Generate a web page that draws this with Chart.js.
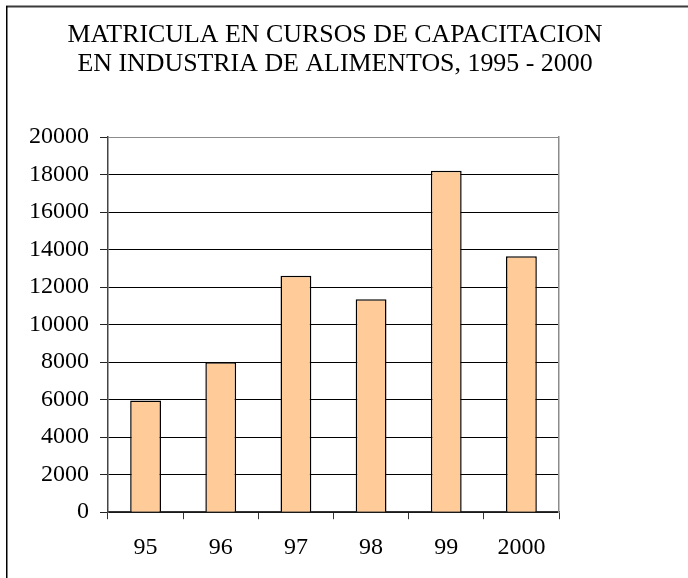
<!DOCTYPE html>
<html>
<head>
<meta charset="utf-8">
<script src="https://cdn.jsdelivr.net/npm/chart.js@4"></script>
<style>
  html, body { margin: 0; padding: 0; background: #fff; }
  #wrap { width: 688px; height: 578px; }
</style>
</head>
<body>
<div id="wrap"><canvas id="matriculaChart" width="688" height="578"></canvas></div>
<script>
// data
const years = ["95", "96", "97", "98", "99", "2000"];
const enrolment = [5950, 8000, 12600, 11350, 18200, 13650];
const titleLines = [
  "MATRICULA EN CURSOS DE CAPACITACION",
  "EN INDUSTRIA DE ALIMENTOS, 1995 - 2000"
];
const yMin = 0;
const yMax = 20000;
const yStep = 2000;

const serif = "'Liberation Serif', 'Times New Roman', serif";

// white page + the frame lines at top and left
const framePlugin = {
  id: "frame",
  beforeDraw(chart) {
    const ctx = chart.ctx;
    ctx.save();
    ctx.fillStyle = "#fff";
    ctx.fillRect(0, 0, chart.width, chart.height);
    ctx.restore();
  },
  afterDraw(chart) {
    const ctx = chart.ctx;
    ctx.save();
    ctx.fillStyle = "#3a3a3a";
    ctx.fillRect(6, 5.5, chart.width - 6, 2);
    ctx.fillStyle = "#000";
    ctx.fillRect(6, 6, 1.5, chart.height - 6);
    ctx.restore();
  }
};

const ctx = document.getElementById("matriculaChart").getContext("2d");
new Chart(ctx, {
  type: "bar",
  data: {
    labels: years,
    datasets: [{
      data: enrolment,
      backgroundColor: "#FFCC99",
      borderColor: "#000",
      borderWidth: 1.5,
      barPercentage: 0.41,
      categoryPercentage: 1
    }]
  },
  options: {
    responsive: false,
    animation: false,
    layout: { padding: { left: 0, right: 18, top: 0, bottom: 2 } },
    plugins: {
      legend: { display: false },
      tooltip: { enabled: false },
      title: {
        display: true,
        text: titleLines,
        color: "#000",
        font: { family: serif, size: 25.9, weight: "normal", lineHeight: 1.12 },
        padding: { top: 21, bottom: 58 }
      }
    },
    scales: {
      x: {
        grid: {
          drawOnChartArea: false,
          drawTicks: true,
          tickLength: 7,
          color: "#333"
        },
        border: { color: "#333", width: 1.5 },
        ticks: {
          color: "#000",
          padding: 14,
          font: { family: serif, size: 24 }
        }
      },
      y: {
        min: yMin,
        max: yMax,
        afterFit(scale) { scale.width = 108; },
        ticks: {
          stepSize: yStep,
          color: "#000",
          padding: 11,
          font: { family: serif, size: 24 },
          callback: v => String(v)
        },
        grid: {
          color: c => (c.tick && c.tick.value === yMax ? "#8c8c8c" : "#000"),
          tickColor: "#222",
          lineWidth: 1,
          tickLength: 8
        },
        border: { color: "#444", width: 1.5 }
      },
      // right edge of the plot box, also keeps the gap on the right
      y2: {
        position: "right",
        min: yMin,
        max: yMax,
        afterFit(scale) { scale.width = 111; },
        ticks: { display: false },
        grid: { display: false },
        border: { color: "#8c8c8c", width: 1.5 }
      }
    }
  },
  plugins: [framePlugin]
});
</script>
</body>
</html>
